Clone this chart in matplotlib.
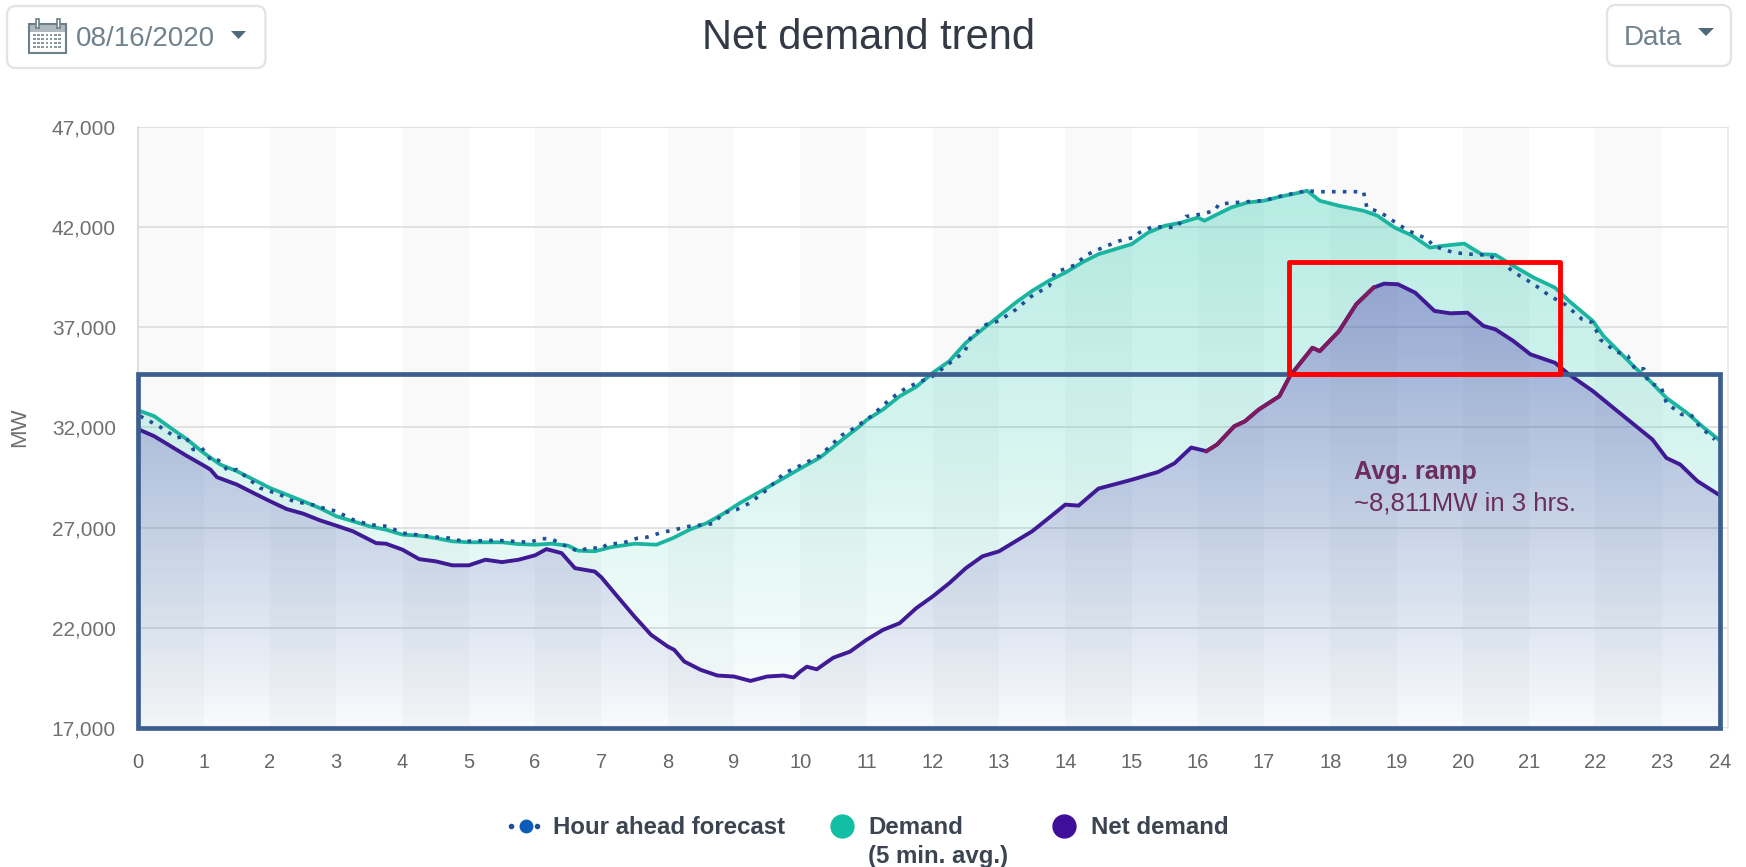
import numpy as np
import matplotlib
matplotlib.use('Agg')
import matplotlib.pyplot as plt
from matplotlib.patches import FancyBboxPatch, Polygon, Rectangle
from matplotlib.transforms import ScaledTranslation

plt.rcParams['font.family'] = ['Liberation Sans', 'DejaVu Sans']

# values (hour of day, MW)
demand_hours = [0.04, 0.25, 0.5, 0.75, 1, 1.25, 1.5, 1.75, 2, 2.25, 2.5, 2.75, 3, 3.25, 3.5, 3.75, 4, 4.25, 4.5, 4.75,
                5, 5.25, 5.5, 5.75, 6, 6.25, 6.5, 6.65, 6.9, 7.15, 7.5, 7.83, 8.08, 8.33, 8.59, 8.84, 9.09, 9.5, 10, 10.3,
                10.65, 10.9, 11, 11.25, 11.5, 11.75, 12, 12.25, 12.5, 12.75, 13, 13.25, 13.5, 13.75, 14, 14.25, 14.5, 14.75,
                15, 15.25, 15.5, 15.75, 16, 16.1, 16.25, 16.5, 16.75, 17, 17.25, 17.5, 17.65, 17.84, 18.13, 18.5, 18.71, 18.97,
                19.24, 19.5, 19.7, 20.02, 20.28, 20.49, 20.76, 21.07, 21.39, 21.6, 21.96, 22.12, 22.6, 22.8, 23.07, 23.38, 23.64, 23.86]
demand_mw = [32820, 32570, 31980, 31400, 30730, 30150, 29820, 29400, 28980, 28650, 28320, 27980, 27570, 27320, 27070, 26900, 26650, 26600, 26480, 26320,
             26270, 26270, 26270, 26180, 26150, 26200, 26100, 25850, 25820, 26030, 26200, 26150, 26480, 26900, 27230, 27700, 28230, 29000, 29950, 30500,
             31430, 32070, 32370, 32900, 33560, 34030, 34730, 35310, 36230, 36900, 37560, 38230, 38820, 39320, 39730, 40230, 40650, 40900,
             41150, 41730, 42070, 42230, 42480, 42320, 42570, 42980, 43230, 43320, 43530, 43700, 43820, 43320, 43070, 42820, 42570, 41980,
             41570, 40980, 41070, 41180, 40650, 40620, 40070, 39480, 38980, 38320, 37320, 36570, 34980, 34400, 33480, 32730, 31980, 31400]

net_hours = [0.04, 0.25, 0.5, 0.75, 1, 1.1, 1.2, 1.5, 1.75, 2, 2.25, 2.5, 2.75, 3, 3.25, 3.5, 3.6, 3.75, 4, 4.25, 4.5, 4.75,
             5, 5.25, 5.5, 5.75, 6, 6.17, 6.4, 6.6, 6.9, 7, 7.2, 7.5, 7.75, 8, 8.1, 8.25, 8.5, 8.75, 9, 9.25, 9.5, 9.75, 9.9,
             10, 10.1, 10.25, 10.5, 10.75, 11, 11.25, 11.5, 11.75, 12, 12.25, 12.5, 12.75, 13, 13.25, 13.5, 13.75, 14, 14.2, 14.5,
             15, 15.4, 15.65, 15.9, 16.13, 16.29, 16.55, 16.71, 16.92, 17.23, 17.39, 17.73, 17.84, 18.13, 18.39, 18.65, 18.81,
             19.02, 19.28, 19.57, 19.81, 20.07, 20.31, 20.49, 20.76, 21.02, 21.39, 21.6, 21.96, 22.33, 22.86, 23.07, 23.28, 23.54, 23.86]
net_mw = [31870, 31570, 31070, 30570, 30100, 29900, 29520, 29150, 28730, 28320, 27930, 27700, 27370, 27100, 26820, 26400, 26230, 26200, 25900, 25430, 25320, 25120,
          25120, 25400, 25280, 25400, 25620, 25930, 25730, 24980, 24810, 24520, 23730, 22560, 21650, 21070, 20900, 20320, 19900, 19620, 19570, 19350, 19570, 19620, 19520,
          19820, 20060, 19930, 20510, 20810, 21400, 21900, 22230, 22980, 23570, 24230, 24980, 25570, 25820, 26320, 26820, 27480, 28150, 28100, 28950,
          29390, 29780, 30220, 31000, 30820, 31150, 32060, 32310, 32900, 33560, 34570, 35980, 35810, 36810, 38150, 38980, 39180,
          39150, 38730, 37820, 37700, 37730, 37070, 36900, 36320, 35650, 35230, 34650, 33820, 32820, 31400, 30480, 30150, 29320, 28650]

forecast_hours = [0.04, 0.34, 0.59, 0.72, 0.84, 0.97, 1.12, 1.22, 1.37, 1.5, 1.85, 2.15, 2.35, 2.68, 2.8, 3, 3.25, 3.5, 3.76, 4, 4.54, 4.7, 4.91, 5.41, 5.92,
                  6.09, 6.24, 6.42, 6.65, 6.85, 6.97, 7.1, 7.32, 7.55, 7.68, 7.88, 8.33, 8.69, 8.84, 9.04, 9.24, 9.5, 9.75, 10, 10.3,
                  10.62, 10.82, 11.07, 11.35, 11.6, 12, 12.23, 12.48, 12.58, 12.81, 13, 13.26, 13.48, 13.76, 13.84, 14.14, 14.31, 14.59, 14.82,
                  15.02, 15.12, 15.32, 15.67, 15.82, 16.05, 16.25, 16.32, 16.57, 17, 17.25, 17.5, 17.65, 17.8, 18.5, 18.55, 18.76, 19.02, 19.18,
                  19.47, 19.55, 19.86, 20.12, 20.39, 20.62, 20.78, 21.07, 21.31, 21.54, 21.8, 21.96, 22.07, 22.3, 22.49, 22.6, 22.73, 22.8, 22.99,
                  23.07, 23.3, 23.44, 23.57, 23.8]
forecast_mw = [32570, 32030, 31480, 31570, 30900, 30980, 30320, 30370, 29820, 29900, 28980, 28650, 28320, 28120, 27980, 27820, 27400, 27150, 27070, 26730, 26520, 26480, 26320, 26370, 26270,
               26450, 26450, 26150, 25820, 26030, 25930, 26180, 26230, 26480, 26520, 26730, 27070, 27200, 27730, 27900, 28230, 28900, 29700, 30100, 30600,
               31600, 31980, 32560, 33400, 33980, 34560, 35150, 35770, 36560, 37150, 37320, 37900, 38530, 39070, 39730, 40100, 40600, 41020, 41320,
               41480, 41730, 42030, 41980, 42530, 42650, 42820, 43150, 43230, 43330, 43550, 43720, 43820, 43770, 43770, 42980, 42730, 42150, 41820,
               41400, 41070, 40730, 40650, 40600, 40150, 39730, 39150, 38570, 38150, 37400, 37230, 36400, 35800, 35560, 34900, 34930, 34230, 34030,
               33230, 32650, 32650, 32060, 31400]

hour_ticks = list(range(0, 25))
mw_ticks = [17000, 22000, 27000, 32000, 37000, 42000, 47000]
legend_names = ['Hour ahead forecast', 'Demand\n(5 min. avg.)', 'Net demand']

ramp_start, ramp_end = 16.0, 18.7
red_box = (17.37, 21.47, 34650, 40250)
blue_box = (0, 23.88, 17000, 34650)

TEAL = '#1ab5a0'
PURPLE = '#3f1a94'
MAROON = '#7d1b5e'


def gradient_fill(ax, hours, values, rgb, top_alpha, low_alpha, zorder):
    # vertical fade, clipped to the area under the series
    top = max(values)
    grad = np.zeros((256, 1, 4))
    grad[:, :, 0], grad[:, :, 1], grad[:, :, 2] = rgb
    grad[:, 0, 3] = np.linspace(top_alpha, low_alpha, 256)
    poly = ax.fill_between(hours, values, 17000, color='none', linewidth=0)
    im = ax.imshow(grad, extent=[0, 24, 17000, top], aspect='auto', zorder=zorder)
    im.set_clip_path(poly.get_paths()[0], transform=ax.transData)


fig = plt.figure(figsize=(17.46, 8.67), dpi=100, facecolor='w')
ax = fig.add_axes([137.5 / 1746, 1 - 728 / 867, (1728 - 137.5) / 1746, (728 - 127) / 867], zorder=1)

for h in range(0, 24, 2):
    ax.axvspan(h, h + 1, color='#f9f9f9', linewidth=0, zorder=0)
ax.grid(axis='y', color='#dadada', linewidth=1.1, zorder=1)
ax.set_axisbelow(True)

gradient_fill(ax, demand_hours, demand_mw, (0.0, 0.75, 0.63), 0.29, 0.015, 2)
gradient_fill(ax, net_hours, net_mw, (0.27, 0.12, 0.67), 0.34, 0.015, 3)

ax.plot(demand_hours, demand_mw, color=TEAL, linewidth=2.7, zorder=4)
ax.plot(forecast_hours, forecast_mw, color='#1f4f96', linewidth=2.6, linestyle=(0, (1, 2)), zorder=5)

net_h = np.array(net_hours)
net_v = np.array(net_mw)
ax.plot(net_h, net_v, color=PURPLE, linewidth=2.8, zorder=6)
in_ramp = (net_h >= ramp_start) & (net_h <= ramp_end)
ax.plot(net_h[in_ramp], net_v[in_ramp], color=MAROON, linewidth=2.8, zorder=7)

ax.add_patch(Rectangle((blue_box[0], blue_box[2]), blue_box[1] - blue_box[0], blue_box[3] - blue_box[2],
                       fill=False, edgecolor='#3c5f8f', linewidth=3.4, joinstyle='miter', clip_on=False, zorder=8))
ax.add_patch(Rectangle((red_box[0], red_box[2]), red_box[1] - red_box[0], red_box[3] - red_box[2],
                       fill=False, edgecolor='#ff0000', linewidth=3.5, joinstyle='round', clip_on=False, zorder=9))

ax.text(18.36, 29800, 'Avg. ramp', color='#6b2d5c', fontsize=18.2, fontweight='bold', va='center', zorder=10)
ax.text(18.36, 28200, '~8,811MW in 3 hrs.', color='#6b2d5c', fontsize=18.5, va='center', zorder=10)

ax.set_xlim(0, 24)
ax.set_ylim(17000, 47000)
ax.set_xticks(hour_ticks)
ax.set_yticks(mw_ticks)
ax.set_yticklabels([f'{v:,}' for v in mw_ticks])
ax.tick_params(axis='x', length=0, pad=18, labelsize=14.5, labelcolor='#666666')
ax.tick_params(axis='y', length=0, pad=15.5, labelsize=15, labelcolor='#707070')
last = ax.get_xticklabels()[-1]
last.set_transform(last.get_transform() + ScaledTranslation(-8 / 100, 0, fig.dpi_scale_trans))

for side in ['top', 'bottom']:
    ax.spines[side].set_visible(False)
ax.spines['left'].set_color('#d5d5d5')
ax.spines['right'].set_color('#e6e6e6')
ax.spines['left'].set_linewidth(1.1)
ax.spines['right'].set_linewidth(1.1)

# page furniture, in pixels of the picture
top = fig.add_axes([0, 0, 1, 1], zorder=2)
top.set_xlim(0, 1746)
top.set_ylim(867, 0)
top.axis('off')
top.patch.set_alpha(0)

top.text(869, 38, 'Net demand trend', fontsize=30, color='#333a45', ha='center', va='center')
top.text(20, 427, 'MW', fontsize=16, color='#6f6f6f', rotation=90, ha='center', va='center')

for x0, y0, x1, y1 in [(7, 6, 265.5, 68), (1607, 5, 1731, 66)]:
    top.add_patch(FancyBboxPatch((x0 + 8, y0 + 8), x1 - x0 - 16, y1 - y0 - 16, boxstyle='round,pad=8,rounding_size=9',
                                 facecolor='white', edgecolor='#e1e3e5', linewidth=1.6))

top.text(76, 39, '08/16/2020', fontsize=20, color='#6f828e', va='center')
top.add_patch(Polygon([(231, 31), (246, 31), (238.5, 39)], color='#4f6a7a', linewidth=0))
top.text(1624, 38, 'Data', fontsize=20, color='#6f828e', va='center')
top.add_patch(Polygon([(1698, 28), (1714, 28), (1706, 36)], color='#4f6a7a', linewidth=0))

# calendar icon
ICON = '#6b8089'
top.add_patch(Rectangle((28.5, 24), 37, 28.5, fill=False, edgecolor=ICON, linewidth=1.5))
top.add_patch(Rectangle((28.5, 24), 37, 7, facecolor=ICON, edgecolor=ICON, linewidth=0.5, alpha=0.55))
for x in (36, 57):
    top.add_patch(Rectangle((x, 19), 3, 9, facecolor='white', edgecolor=ICON, linewidth=1.2))
for i in range(7):
    for j in range(4):
        top.add_patch(Rectangle((33 + i * 4.2, 34 + j * 4), 2.6, 2.4, facecolor=ICON, linewidth=0, alpha=0.8))

# legend
LEG = '#3b4450'
top.plot([511, 537], [826, 826], linestyle='none', marker='o', markersize=3, color='#1f4f96')
top.plot([525.5], [826], linestyle='none', marker='o', markersize=10, color='#0b5cb8', markeredgewidth=0)
top.plot([842], [826], linestyle='none', marker='o', markersize=17.5, color='#12bfa5', markeredgewidth=0)
top.plot([1064], [826], linestyle='none', marker='o', markersize=17.5, color='#3f0f9a', markeredgewidth=0)
top.text(553, 827, legend_names[0], fontsize=17.3, fontweight='bold', color=LEG, va='center')
demand_name, demand_note = legend_names[1].split('\n')
top.text(868, 827, demand_name, fontsize=17.3, fontweight='bold', color=LEG, va='center')
top.text(868, 856, demand_note, fontsize=17.3, fontweight='bold', color=LEG, va='center')
top.text(1091, 827, legend_names[2], fontsize=17.3, fontweight='bold', color=LEG, va='center')

fig.savefig('out.png', dpi=100)
